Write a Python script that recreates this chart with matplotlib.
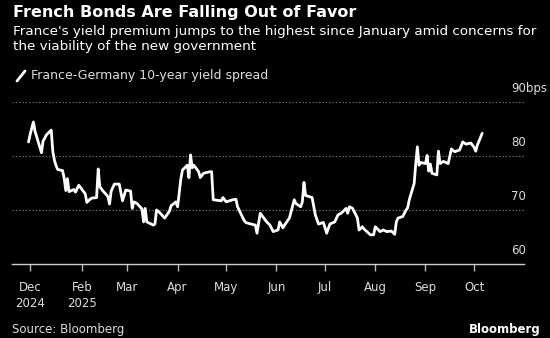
import matplotlib
matplotlib.use("Agg")
import matplotlib.pyplot as plt
import matplotlib.dates as mdates
from matplotlib.lines import Line2D
import pandas as pd

# France-Germany 10-year yield spread (bps), daily closes
dates = [
    "2024-12-30", "2024-12-31", "2025-01-02", "2025-01-03", "2025-01-06", "2025-01-07",
    "2025-01-08", "2025-01-09", "2025-01-10", "2025-01-13", "2025-01-14", "2025-01-15",
    "2025-01-16", "2025-01-17", "2025-01-20", "2025-01-21", "2025-01-22", "2025-01-23",
    "2025-01-24", "2025-01-27", "2025-01-28", "2025-01-30", "2025-02-03", "2025-02-04",
    "2025-02-06", "2025-02-07", "2025-02-10", "2025-02-11", "2025-02-12", "2025-02-14",
    "2025-02-17", "2025-02-18", "2025-02-19", "2025-02-21", "2025-02-24", "2025-02-26",
    "2025-02-28", "2025-03-03", "2025-03-04", "2025-03-05", "2025-03-07", "2025-03-10",
    "2025-03-11", "2025-03-12", "2025-03-13", "2025-03-17", "2025-03-18", "2025-03-19",
    "2025-03-21", "2025-03-24", "2025-03-27", "2025-03-28", "2025-03-31", "2025-04-01",
    "2025-04-03", "2025-04-04", "2025-04-07", "2025-04-08", "2025-04-09", "2025-04-10",
    "2025-04-11", "2025-04-14", "2025-04-15", "2025-04-17", "2025-04-21", "2025-04-22",
    "2025-04-23", "2025-04-28", "2025-04-29", "2025-05-01", "2025-05-05", "2025-05-07",
    "2025-05-08", "2025-05-12", "2025-05-13", "2025-05-15", "2025-05-19", "2025-05-20",
    "2025-05-22", "2025-05-26", "2025-05-28", "2025-05-30", "2025-06-02", "2025-06-03",
    "2025-06-05", "2025-06-06", "2025-06-09", "2025-06-12", "2025-06-13", "2025-06-16",
    "2025-06-17", "2025-06-18", "2025-06-19", "2025-06-23", "2025-06-25", "2025-06-27",
    "2025-06-30", "2025-07-02", "2025-07-04", "2025-07-07", "2025-07-09", "2025-07-11",
    "2025-07-14", "2025-07-15", "2025-07-16", "2025-07-18", "2025-07-21", "2025-07-22",
    "2025-07-24", "2025-07-25", "2025-07-29", "2025-07-31", "2025-08-01", "2025-08-04",
    "2025-08-06", "2025-08-08", "2025-08-11", "2025-08-13", "2025-08-14", "2025-08-15",
    "2025-08-18", "2025-08-20", "2025-08-21", "2025-08-22", "2025-08-25", "2025-08-26",
    "2025-08-27", "2025-08-28", "2025-08-29", "2025-09-01", "2025-09-02", "2025-09-03",
    "2025-09-04", "2025-09-05", "2025-09-08", "2025-09-09", "2025-09-10", "2025-09-12",
    "2025-09-15", "2025-09-17", "2025-09-19", "2025-09-22", "2025-09-24", "2025-09-26",
    "2025-09-29", "2025-10-01", "2025-10-02", "2025-10-03", "2025-10-06",
]
spread_bps = [
    82.6, 84.0, 86.3, 84.6, 81.6, 80.6,
    82.8, 83.3, 83.9, 84.8, 80.8, 79.2,
    78.2, 77.5, 77.3, 75.9, 73.6, 75.8,
    73.4, 73.8, 73.3, 74.6, 73.0, 71.4,
    72.0, 72.2, 72.3, 77.6, 74.3, 73.5,
    72.5, 71.1, 73.5, 74.8, 74.8, 71.7,
    73.7, 73.5, 70.3, 71.5, 71.2, 70.2,
    67.8, 70.3, 67.8, 67.2, 67.4, 70.0,
    69.5, 68.5, 69.8, 70.8, 71.5, 70.6,
    75.7, 77.4, 78.3, 76.0, 80.2, 77.8,
    78.3, 77.1, 76.0, 76.8, 77.1, 77.1,
    71.9, 71.7, 72.3, 71.5, 71.9, 72.0,
    70.6, 68.1, 67.7, 67.5, 67.2, 65.7,
    69.4, 67.8, 67.2, 66.0, 66.3, 67.8,
    66.7, 67.2, 68.5, 71.9, 71.2, 70.6,
    71.5, 75.1, 72.7, 72.3, 69.1, 67.4,
    67.7, 65.7, 67.4, 67.8, 69.1, 69.4,
    70.3, 69.4, 70.6, 70.3, 68.5, 66.3,
    66.9, 66.5, 65.4, 65.4, 66.9, 66.0,
    66.3, 66.0, 66.1, 65.5, 67.8, 68.5,
    68.8, 70.0, 70.4, 71.9, 74.9, 78.6,
    81.7, 78.3, 78.8, 78.6, 80.1, 77.2,
    78.5, 76.8, 76.5, 80.9, 78.6, 79.0,
    78.6, 81.3, 80.8, 81.1, 82.6, 82.2,
    82.4, 81.6, 80.9, 82.0, 84.2,
]

month_ticks = ["2024-12-31", "2025-02-01", "2025-03-01", "2025-04-01", "2025-05-01",
               "2025-06-01", "2025-07-01", "2025-08-01", "2025-09-01", "2025-10-01"]
month_labels = ["Dec\n2024", "Feb\n2025", "Mar", "Apr", "May",
                "Jun", "Jul", "Aug", "Sep", "Oct"]
y_ticks = [60, 70, 80, 90]
y_labels = ["60", "70", "80", "90bps"]

title = "French Bonds Are Falling Out of Favor"
subtitle = ("France's yield premium jumps to the highest since January amid concerns for\n"
            "the viability of the new government")
series_name = "France-Germany 10-year yield spread"

W, H = 550, 338
BG = "black"
FG = "white"
GREY = "#dcdcdc"

fig = plt.figure(figsize=(W / 100, H / 100), dpi=100, facecolor=BG)


def fx(px):
    return px / W


def fy(py):
    return 1 - py / H


ax = fig.add_axes([fx(12), 74 / H, fx(512), 162 / H], facecolor=BG)

x = pd.to_datetime(dates)
ax.plot(x, spread_bps, color=FG, lw=2.0, solid_joinstyle="round",
        solid_capstyle="round", zorder=3)

start = mdates.date2num(pd.Timestamp(month_ticks[0]))
ax.set_xlim(start - 11.2, start + 304.8)
ax.set_ylim(y_ticks[0], y_ticks[-1])

# dotted horizontal guides
for v in y_ticks[1:]:
    ax.axhline(v, color="#7a7a7a", lw=0.8, ls=(0, (1.2, 1.8)), zorder=1)

# value labels sit just above their guide lines on the right
for v, lab in zip(y_ticks, y_labels):
    ax.text(0.975, v + 2.45, lab, transform=ax.get_yaxis_transform(),
            color=GREY, fontsize=8.5, ha="left", va="center", clip_on=False)

ax.set_yticks([])
for side in ("top", "right", "left"):
    ax.spines[side].set_visible(False)
ax.spines["bottom"].set_color("#cfcfcf")
ax.spines["bottom"].set_linewidth(1.0)

ax.set_xticks(pd.to_datetime(month_ticks))
ax.set_xticklabels(month_labels)
ax.tick_params(axis="x", direction="out", length=5, width=1, color="#bdbdbd",
               labelcolor=GREY, labelsize=8.5, pad=7)
for t in ax.get_xticklabels():
    t.set_linespacing(1.35)

# header
fig.text(fx(13), fy(13), title, color=FG, fontsize=11.5, fontweight="bold",
         ha="left", va="center")
fig.text(fx(13), fy(25), subtitle, color=FG, fontsize=9.7, ha="left", va="top",
         linespacing=1.2)

# series key
fig.add_artist(Line2D([fx(17), fx(25)], [fy(81), fy(71)], color=FG, lw=2,
                      solid_capstyle="round", transform=fig.transFigure))
fig.text(fx(31), fy(75), series_name, color=GREY, fontsize=9.0, ha="left", va="center")

# footer
fig.text(fx(12), fy(330), "Source: Bloomberg", color=GREY, fontsize=8.5,
         ha="left", va="center")
fig.text(fx(541), fy(330), "Bloomberg", color=FG, fontsize=8.5, fontweight="bold",
         ha="right", va="center")

fig.savefig("out.png", dpi=100, facecolor=BG)
